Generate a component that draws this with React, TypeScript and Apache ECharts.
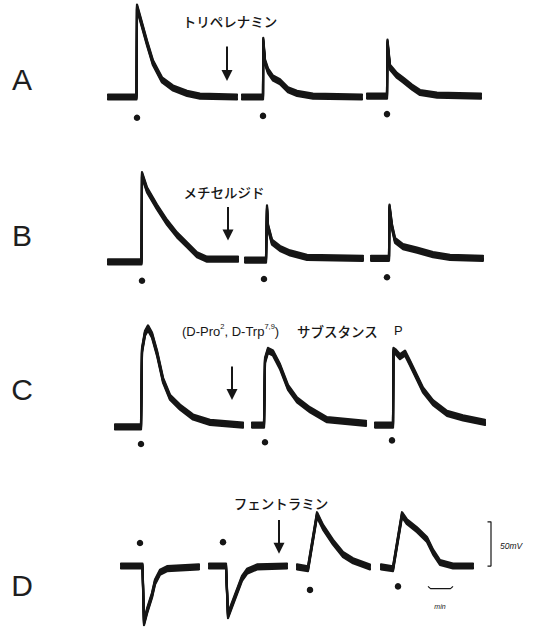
import React, { useEffect, useRef } from "react";
import * as echarts from "echarts";

type Pt = [number, number];

// time (min) , membrane potential change (mV) read from the recording
const traceA1: Pt[] = [[0.32, 0], [1.46, 0], [1.48, 100], [1.6, 88], [1.88, 60], [2.12, 38], [2.48, 19], [2.92, 10], [3.48, 4], [4.0, 1], [5.48, 0]];
const traceA2: Pt[] = [[5.68, 0], [6.52, 0], [6.53, 63], [6.6, 39], [6.72, 29], [6.92, 21], [7.2, 17], [7.52, 8], [7.88, 4], [8.52, 1], [10.48, 0]];
const traceA3: Pt[] = [[10.68, 1], [11.48, 1], [11.5, 61], [11.6, 33], [11.88, 24], [12.12, 19], [12.48, 11], [12.8, 5], [13.48, 2], [15.24, 1]];

const traceB1: Pt[] = [[0.32, -1], [1.66, -1], [1.68, 96], [1.88, 79], [2.28, 60], [2.68, 43], [3.08, 29], [3.48, 18], [3.88, 7], [4.28, 2], [5.52, 2]];
const traceB2: Pt[] = [[5.8, 1], [6.64, 1], [6.68, 59], [6.72, 38], [6.88, 21], [7.2, 14], [7.6, 9], [8.28, 4], [10.52, 3]];
const traceB3: Pt[] = [[10.84, 3], [11.56, 3], [11.58, 60], [11.68, 38], [11.8, 23], [12.12, 16], [12.68, 12], [13.32, 7], [14.0, 4], [15.32, 3]];

const traceC1: Pt[] = [[0.6, -1], [1.64, -1], [1.68, 84], [1.8, 103], [1.92, 109], [2.08, 101], [2.28, 81], [2.52, 51], [2.8, 32], [3.2, 21], [3.72, 10], [4.4, 4], [5.72, 1]];
const traceC2: Pt[] = [[6.08, 1], [6.56, 1], [6.6, 73], [6.72, 84], [6.92, 81], [7.2, 66], [7.52, 43], [7.88, 29], [8.4, 18], [9.08, 7], [10.64, 3]];
const traceC3: Pt[] = [[11.0, 1], [11.72, 1], [11.74, 84], [11.84, 82], [12.0, 77], [12.2, 81], [12.4, 70], [12.68, 54], [12.92, 40], [13.32, 26], [13.88, 14], [14.52, 9], [15.4, 4]];

const traceD1: Pt[] = [[0.84, 0], [1.7, 0], [1.76, -64], [1.88, -51], [2.08, -33], [2.2, -18], [2.4, -7], [2.68, -3], [3.96, -1]];
const traceD2: Pt[] = [[4.36, 0], [5.04, 0], [5.12, -56], [5.28, -44], [5.48, -29], [5.68, -14], [5.88, -6], [6.28, -1], [7.48, 0]];
const traceD3: Pt[] = [[7.88, -1], [8.32, -3], [8.68, 58], [8.92, 44], [9.32, 27], [9.72, 13], [10.12, 6], [10.8, -1]];
const traceD4: Pt[] = [[11.24, -1], [11.72, -3], [12.08, 58], [12.28, 50], [12.68, 41], [13.08, 30], [13.32, 16], [13.6, 4], [14.12, 0], [14.92, 0]];

// stimulation marks (time, mV position of the dot)
const stimA: Pt[] = [[1.48, -23], [6.52, -21], [11.48, -19]];
const stimB: Pt[] = [[1.68, -22], [6.56, -20], [11.48, -18]];
const stimC: Pt[] = [[1.64, -20], [6.6, -18], [11.68, -16]];
const stimD: Pt[] = [[1.6, 26], [4.92, 27], [8.4, -27], [11.92, -23]];

// drug application arrows (time, start mV, end mV)
const arrowTimes = [5.08, 5.12, 5.28, 7.16];
const arrowFrom = [56, 60, 66, 52];
const arrowTo = [24, 29, 35, 20];

const rowLabels = ["A", "B", "C", "D"];
const drugA = "トリペレナミン";
const drugB = "メチセルジド";
const drugD = "フェントラミン";

// calibration bars
const voltBar: Pt[] = [[15.5, 50], [15.64, 50], [15.64, 0], [15.5, 0]];
const timeBar: Pt[] = [[13.12, -23], [13.22, -25.5], [14.02, -25.5], [14.12, -23]];

const rowTraces: Pt[][][] = [
  [traceA1, traceA2, traceA3],
  [traceB1, traceB2, traceB3],
  [traceC1, traceC2, traceC3],
  [traceD1, traceD2, traceD3, traceD4],
];
const rowStims: Pt[][] = [stimA, stimB, stimC, stimD];

// layout
const PX_PER_MV = 0.9;
const baselines = [97, 261, 426, 567];
const yRanges: [number, number][] = [[-30, 105], [-30, 105], [-30, 115], [-70, 65]];
const INK = "#161616";
const JP = "'Noto Sans CJK JP', 'Liberation Sans', sans-serif";
const LAT = "'Liberation Sans', Arial, sans-serif";

export default function App() {
  const ref = useRef<HTMLDivElement>(null);
  useEffect(() => {
    document.body.style.margin = "0";
    if (!ref.current) return;
    const chart = echarts.init(ref.current, undefined, { renderer: "svg" });

    const grids = baselines.map((b, r) => ({
      left: 100,
      width: 400,
      top: b - yRanges[r][1] * PX_PER_MV,
      height: (yRanges[r][1] - yRanges[r][0]) * PX_PER_MV,
      show: false,
    }));
    const xAxes = baselines.map((_, r) => ({
      type: "value", gridIndex: r, min: 0, max: 16, show: false,
    }));
    const yAxes = baselines.map((_, r) => ({
      type: "value", gridIndex: r, min: yRanges[r][0], max: yRanges[r][1], show: false,
    }));

    const series: any[] = [];
    const offsets = [-2.8, -1.4, 0, 1.4, 2.8];
    rowTraces.forEach((traces, r) => {
      traces.forEach((tr) => {
        offsets.forEach((o) => {
          series.push({
            type: "line",
            xAxisIndex: r,
            yAxisIndex: r,
            data: tr.map(([t, v]) => [t, v + o]),
            symbol: "none",
            showSymbol: false,
            silent: true,
            clip: false,
            lineStyle: { color: INK, width: 2.2, join: "round", cap: "round" },
          });
        });
      });
      series.push({
        type: "scatter",
        xAxisIndex: r,
        yAxisIndex: r,
        data: rowStims[r],
        symbol: "circle",
        symbolSize: 6.5,
        silent: true,
        clip: false,
        itemStyle: { color: INK, opacity: 1 },
        markLine: {
          silent: true,
          symbol: ["none", "triangle"],
          symbolSize: 11,
          label: { show: false },
          lineStyle: { color: INK, width: 2, type: "solid", opacity: 1 },
          data: [[{ coord: [arrowTimes[r], arrowFrom[r]] }, { coord: [arrowTimes[r], arrowTo[r]] }]],
        },
      });
    });
    series.push({
      type: "line", xAxisIndex: 3, yAxisIndex: 3, data: voltBar, symbol: "none", silent: true, clip: false,
      lineStyle: { color: INK, width: 1.2 },
    });
    series.push({
      type: "line", xAxisIndex: 3, yAxisIndex: 3, data: timeBar, symbol: "none", silent: true, clip: false,
      lineStyle: { color: INK, width: 1.2 },
    });

    const letterY = [79, 235, 389, 585];
    const graphic: any[] = rowLabels.map((l, i) => ({
      type: "text",
      x: 22,
      y: letterY[i],
      style: {
        text: l, fontSize: 30, fontFamily: LAT, fill: "#1e1e1e",
        align: "center", verticalAlign: "middle", textAlign: "center", textVerticalAlign: "middle",
      },
    }));
    const jpText = (text: string, x: number, y: number, align = "center") => ({
      type: "text", x, y,
      style: {
        text, fontSize: 13.5, fontWeight: 500, fontFamily: JP, fill: INK,
        align, verticalAlign: "middle", textAlign: align, textVerticalAlign: "middle",
      },
    });
    graphic.push(jpText(drugA, 230, 21));
    graphic.push(jpText(drugB, 224, 192));
    graphic.push(jpText(drugD, 281, 503));
    graphic.push({
      type: "text", x: 182, y: 331,
      style: {
        text: "(D-Pro{s|2}, D-Trp{s|7,9})", fontSize: 13, fontFamily: LAT, fill: INK,
        align: "left", verticalAlign: "middle", textAlign: "left", textVerticalAlign: "middle",
        rich: { s: { fontSize: 7.5, fontFamily: LAT, fill: INK, padding: [0, 0, 9, 0] } },
      },
    });
    graphic.push(jpText("サブスタンス", 297, 331, "left"));
    graphic.push({
      type: "text", x: 394, y: 330,
      style: {
        text: "P", fontSize: 13, fontFamily: LAT, fill: INK,
        align: "left", verticalAlign: "middle", textAlign: "left", textVerticalAlign: "middle",
      },
    });
    graphic.push({
      type: "text", x: 500, y: 546,
      style: {
        text: "50mV", fontSize: 8.5, fontStyle: "italic", fontFamily: LAT, fill: INK,
        align: "left", verticalAlign: "middle", textAlign: "left", textVerticalAlign: "middle",
      },
    });
    graphic.push({
      type: "text", x: 440, y: 606,
      style: {
        text: "min", fontSize: 7, fontStyle: "italic", fontFamily: LAT, fill: INK,
        align: "center", verticalAlign: "middle", textAlign: "center", textVerticalAlign: "middle",
      },
    });

    chart.setOption({
      animation: false,
      backgroundColor: "#ffffff",
      grid: grids,
      xAxis: xAxes,
      yAxis: yAxes,
      series,
      graphic,
    });
    return () => chart.dispose();
  }, []);
  return <div ref={ref} style={{ width: 537, height: 628 }} />;
}
